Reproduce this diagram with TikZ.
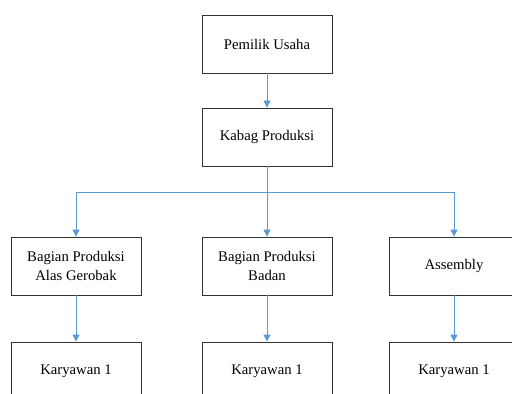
\documentclass[tikz,border=0pt]{standalone}
\usepackage{fontspec}
\setmainfont{Liberation Serif}
\usetikzlibrary{arrows.meta}
\begin{document}
\begin{tikzpicture}[x=1pt,y=-1pt,
  box/.style={draw=black!80,line width=0.8pt,fill=white,minimum width=130pt,minimum height=58pt,
    inner sep=0pt,align=center,font=\fontsize{14.7}{18.5}\selectfont,
    preaction={fill=black!25,opacity=0.35,transform canvas={shift={(1.2pt,-1.2pt)}}}},
  conn/.style={draw={rgb,255:red,91;green,155;blue,213},line width=0.9pt},
  arr/.style={conn,-{Triangle[length=7pt,width=7pt]}}]
\useasboundingbox (0,0) rectangle (512,394);
\clip (0,0) rectangle (512,394);
\node[box] (pemilik) at (267,44) {Pemilik Usaha};
\node[box] (kabag) at (267,137) {Kabag Produksi};
\node[box] (alas) at (76,266) {Bagian Produksi\\Alas Gerobak};
\node[box] (badan) at (267,266) {Bagian Produksi\\Badan};
\node[box] (assembly) at (454,266) {Assembly};
\node[box] (k1) at (76,371) {Karyawan 1};
\node[box] (k2) at (267,371) {Karyawan 1};
\node[box] (k3) at (454,371) {Karyawan 1};
\coordinate (bus) at (267,192);
\draw[arr] (pemilik) -- (kabag);
\draw[conn] (kabag.south) -- (bus);
\draw[arr] (bus) -| (alas.north);
\draw[arr] (bus) -- (badan.north);
\draw[arr] (bus) -| (assembly.north);
\draw[arr] (alas) -- (k1);
\draw[arr] (badan) -- (k2);
\draw[arr] (assembly) -- (k3);
\end{tikzpicture}
\end{document}
